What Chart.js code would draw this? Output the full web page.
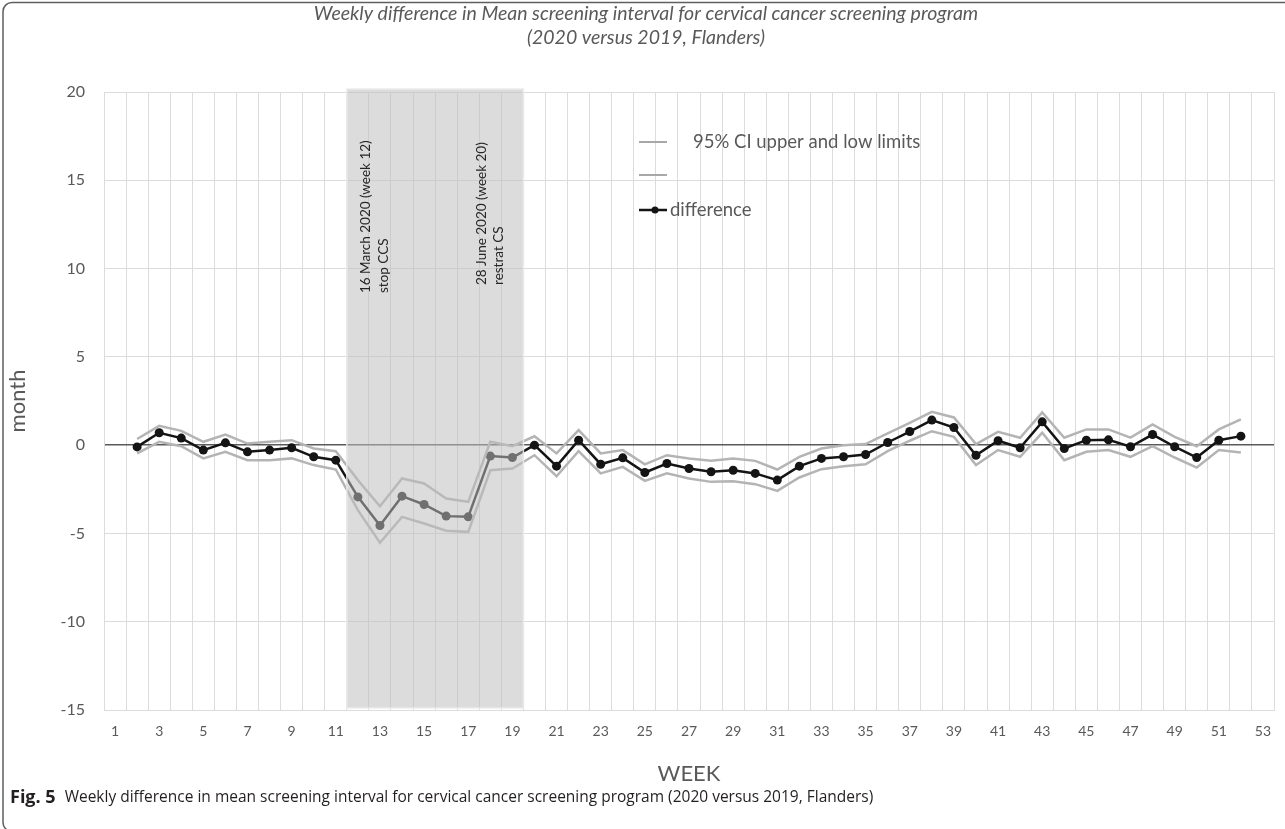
<!DOCTYPE html>
<html>
<head>
<meta charset="utf-8">
<script src="https://cdn.jsdelivr.net/npm/chart.js@4/dist/chart.umd.min.js"></script>
<style>
  html, body { margin: 0; padding: 0; background: #fff; }
  #wrap { position: relative; width: 1285px; height: 829px; }
</style>
</head>
<body>
<div id="wrap"><canvas id="c" width="1285" height="829"></canvas></div>
<script>
// Week numbers on the category axis
const weekLabels = ['1','2','3','4','5','6','7','8','9','10','11','12','13','14','15','16','17','18','19','20',
  '21','22','23','24','25','26','27','28','29','30','31','32','33','34','35','36','37','38','39','40',
  '41','42','43','44','45','46','47','48','49','50','51','52','53'];

// Difference in mean screening interval (months), 2020 vs 2019, per week
const difference = [null, -0.10, 0.70, 0.40, -0.28, 0.13, -0.38, -0.28, -0.15, -0.66, -0.85,
  -2.93, -4.55, -2.89, -3.36, -4.02, -4.06, -0.62, -0.70,
  0.00, -1.19, 0.28, -1.08, -0.72, -1.55, -1.04, -1.32, -1.51, -1.42,
  -1.60, -1.98, -1.19, -0.75, -0.66, -0.53, 0.15, 0.77, 1.42, 1.00,
  -0.57, 0.25, -0.15, 1.32, -0.19, 0.28, 0.30, -0.09, 0.60, -0.09,
  -0.70, 0.28, 0.51, null];

// 95% CI upper limit
const ciUpper = [null, 0.35, 1.09, 0.81, 0.19, 0.60, 0.09, 0.19, 0.28, -0.19, -0.34,
  -1.98, -3.46, -1.89, -2.17, -3.02, -3.21, 0.19, -0.06,
  0.50, -0.47, 0.85, -0.47, -0.28, -1.09, -0.57, -0.75, -0.89, -0.75,
  -0.89, -1.38, -0.66, -0.19, 0.00, 0.06, 0.66, 1.26, 1.89, 1.57,
  0.06, 0.75, 0.42, 1.85, 0.42, 0.89, 0.89, 0.43, 1.17, 0.47,
  -0.06, 0.89, 1.46, null];

// 95% CI lower limit
const ciLower = [null, -0.47, 0.19, -0.06, -0.75, -0.38, -0.85, -0.85, -0.75, -1.13, -1.38,
  -3.68, -5.53, -4.06, -4.44, -4.85, -4.91, -1.42, -1.32,
  -0.57, -1.76, -0.34, -1.60, -1.23, -2.02, -1.60, -1.89, -2.08, -2.04,
  -2.21, -2.59, -1.83, -1.36, -1.19, -1.08, -0.34, 0.25, 0.79, 0.47,
  -1.13, -0.28, -0.66, 0.70, -0.85, -0.38, -0.28, -0.66, -0.06, -0.70,
  -1.27, -0.28, -0.41, null];

// Interruption period of the screening programme (first and last week shaded)
const pauseWeeks = ['12', '19'];
const pauseNotes = [
  { week: '12', lines: ['16 March 2020 (week 12)', 'stop CCS'] },
  { week: '18', lines: ['28 June 2020 (week 20)', 'restrat CS'] }
];

const titleLines = ['Weekly difference in Mean screening interval for cervical cancer screening program',
  '(2020 versus 2019, Flanders)'];
const captionBold = 'Fig. 5';
const captionText = 'Weekly difference in mean screening interval for cervical cancer screening program (2020 versus 2019, Flanders)';

const GREY_TEXT = '#595959';
const CI_COLOR = '#b4b4b4';
const DIFF_COLOR = '#141414';

// Shaded period with its two rotated notes, drawn over the lines
const pausePlugin = {
  id: 'pausePlugin',
  afterDatasetsDraw(chart) {
    const { ctx, scales: { x, y } } = chart;
    const i0 = weekLabels.indexOf(pauseWeeks[0]);
    const i1 = weekLabels.indexOf(pauseWeeks[1]);
    const half = (x.getPixelForValue(1) - x.getPixelForValue(0)) / 2;
    const left = x.getPixelForValue(i0) - half;
    const right = x.getPixelForValue(i1) + half;
    const top = y.getPixelForValue(20) - 3;
    const bottom = y.getPixelForValue(-15) - 2;
    ctx.save();
    ctx.fillStyle = 'rgba(190,190,190,0.54)';
    ctx.fillRect(left, top, right - left, bottom - top);
    ctx.strokeStyle = 'rgba(235,235,235,0.9)';
    ctx.lineWidth = 1.5;
    ctx.strokeRect(left, top, right - left, bottom - top);

    ctx.fillStyle = '#262626';
    ctx.font = '13.5px Lato';
    ctx.textAlign = 'left';
    ctx.textBaseline = 'middle';
    pauseNotes.forEach((n, k) => {
      const idx = weekLabels.indexOf(n.week);
      const px = x.getPixelForValue(idx) + (k === 0 ? 8 : -9);
      const py = k === 0 ? 293 : 285;
      ctx.save();
      ctx.translate(px, py);
      ctx.rotate(-Math.PI / 2);
      n.lines.forEach((t, j) => ctx.fillText(t, 0, j * 17.5));
      ctx.restore();
    });
    ctx.restore();
  }
};

// Title, legend, caption and the rounded frame
const decorPlugin = {
  id: 'decorPlugin',
  afterDraw(chart) {
    const { ctx } = chart;
    ctx.save();
    // frame
    ctx.strokeStyle = '#5f5f5f';
    ctx.lineWidth = 1.5;
    ctx.beginPath();
    ctx.roundRect(3, 2.5, 1300, 829, 9);
    ctx.stroke();

    // title
    ctx.fillStyle = GREY_TEXT;
    ctx.font = 'italic 19.5px Lato';
    ctx.textAlign = 'center';
    ctx.textBaseline = 'middle';
    ctx.fillText(titleLines[0], 646, 14);
    ctx.fillText(titleLines[1], 646, 38);

    // legend
    ctx.lineCap = 'butt';
    ctx.strokeStyle = '#a8a8a8';
    ctx.lineWidth = 2;
    [142, 175].forEach(yy => {
      ctx.beginPath(); ctx.moveTo(639, yy); ctx.lineTo(667, yy); ctx.stroke();
    });
    ctx.strokeStyle = DIFF_COLOR;
    ctx.lineWidth = 2.5;
    ctx.beginPath(); ctx.moveTo(639, 210); ctx.lineTo(667, 210); ctx.stroke();
    ctx.fillStyle = DIFF_COLOR;
    ctx.beginPath(); ctx.arc(655, 210, 3.5, 0, Math.PI * 2); ctx.fill();

    ctx.fillStyle = GREY_TEXT;
    ctx.font = '18.5px Lato';
    ctx.textAlign = 'left';
    ctx.fillText('95% CI upper and low limits', 693, 142);
    ctx.fillText('difference', 670, 210);

    // caption
    ctx.fillStyle = '#231f20';
    ctx.font = 'bold 18px "Open Sans"';
    ctx.fillText(captionBold, 10, 798);
    const w = ctx.measureText(captionBold).width;
    ctx.font = '15.5px "Open Sans"';
    ctx.fillText(captionText, 10 + w + 9, 798);
    ctx.restore();
  }
};

const chart = new Chart(document.getElementById('c'), {
  type: 'line',
  data: {
    labels: weekLabels,
    datasets: [
      { label: '95% CI upper', data: ciUpper, borderColor: CI_COLOR, borderWidth: 2.5,
        pointRadius: 0, tension: 0, spanGaps: false },
      { label: '95% CI lower', data: ciLower, borderColor: CI_COLOR, borderWidth: 2.5,
        pointRadius: 0, tension: 0, spanGaps: false },
      { label: 'difference', data: difference, borderColor: DIFF_COLOR, backgroundColor: DIFF_COLOR,
        borderWidth: 2.5, pointRadius: 4.5, pointBorderWidth: 0, pointBackgroundColor: DIFF_COLOR,
        tension: 0, spanGaps: false }
    ]
  },
  options: {
    responsive: false,
    animation: false,
    events: [],
    layout: { padding: { left: 3, right: 11, top: 92, bottom: 34 } },
    plugins: { legend: { display: false }, tooltip: { enabled: false }, title: { display: false } },
    scales: {
      x: {
        type: 'category',
        offset: true,
        grid: { offset: true, color: '#dcdcdc', lineWidth: 1, drawTicks: false },
        border: { color: '#dcdcdc' },
        ticks: {
          autoSkip: false, maxRotation: 0, padding: 13, color: GREY_TEXT,
          font: { family: 'Lato', size: 14 },
          callback(value, index) { return index % 2 === 0 ? this.getLabelForValue(value) : ''; }
        },
        title: { display: true, text: 'WEEK', color: GREY_TEXT, font: { family: 'Lato', size: 22 },
          padding: { top: 0, bottom: 8 } },
        afterFit(s) { s.height = 85; }
      },
      y: {
        min: -15, max: 20,
        grid: {
          color: c => (c.tick && c.tick.value === 0 ? '#5a5a5a' : '#dcdcdc'),
          lineWidth: c => (c.tick && c.tick.value === 0 ? 1.6 : 1),
          drawTicks: false
        },
        border: { color: '#dcdcdc' },
        ticks: { stepSize: 5, padding: 19, color: GREY_TEXT, font: { family: 'Lato', size: 16 } },
        title: { display: true, text: 'month', color: GREY_TEXT, font: { family: 'Lato', size: 22 },
          padding: { top: 2, bottom: 0 } },
        afterFit(s) { s.width = 101; }
      }
    }
  },
  plugins: [pausePlugin, decorPlugin]
});
</script>
</body>
</html>
